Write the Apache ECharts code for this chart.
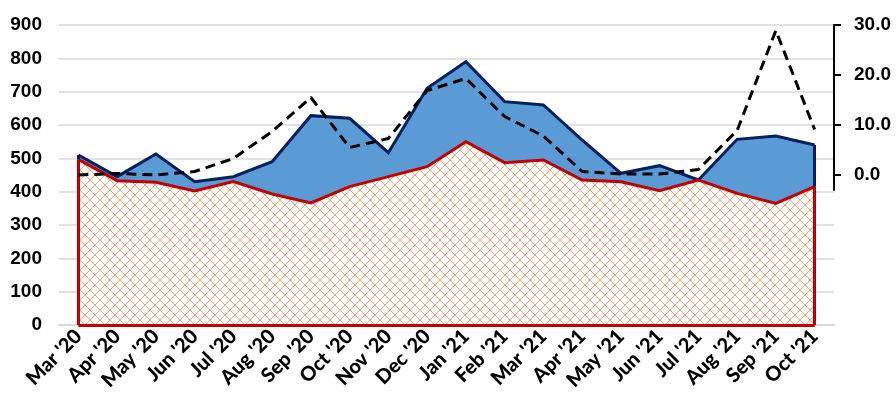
<!DOCTYPE html>
<html>
<head>
<meta charset="utf-8">
<script src="https://cdn.jsdelivr.net/npm/echarts@6/dist/echarts.min.js"></script>
<style>
  html, body { margin: 0; padding: 0; background: #ffffff; }
  #chart { width: 896px; height: 402px; }
</style>
</head>
<body>
<div id="chart"></div>
<script>
// Monthly categories
const months = ["Mar '20", "Apr '20", "May '20", "Jun '20", "Jul '20", "Aug '20", "Sep '20", "Oct '20",
  "Nov '20", "Dec '20", "Jan '21", "Feb '21", "Mar '21", "Apr '21", "May '21", "Jun '21", "Jul '21",
  "Aug '21", "Sep '21", "Oct '21"];

// Lower (hatched) area, left axis
const baseValues = [497, 433, 428, 402, 430, 393, 366, 415, 445, 475, 550, 487, 495, 435, 430, 403, 435, 395, 365, 415];
// Upper (blue) area top, left axis
const totalValues = [510, 445, 513, 430, 445, 490, 628, 620, 517, 710, 790, 670, 660, 555, 455, 478, 435, 557, 567, 540];
// Dashed line, right axis
const rateValues = [0.0, 0.3, 0.0, 0.7, 3.3, 8.7, 15.5, 5.5, 7.3, 16.9, 19.3, 11.7, 7.8, 0.7, 0.2, 0.2, 1.1, 8.9, 28.9, 9.1];

// Axis ticks
const leftTicks = [0, 100, 200, 300, 400, 500, 600, 700, 800, 900];
const rightTicks = [0, 10, 20, 30];

// Orange diamond lattice on white for the lower area
function latticePattern() {
  const s = 10;
  const c = document.createElement('canvas');
  c.width = s; c.height = s;
  const g = c.getContext('2d');
  g.fillStyle = '#ffffff';
  g.fillRect(0, 0, s, s);
  g.strokeStyle = '#f4a571';
  g.lineWidth = 1;
  g.beginPath();
  g.moveTo(0, 0); g.lineTo(s, s);
  g.moveTo(s, 0); g.lineTo(0, s);
  g.stroke();
  return c;
}

const first = months[0];
const last = months[months.length - 1];
const n = months.length - 1;

const chart = echarts.init(document.getElementById('chart'), null, { renderer: 'canvas' });

const yLabelFont = {
  color: '#000000',
  fontFamily: '"Liberation Sans", Arial, sans-serif',
  fontWeight: 'bold',
  fontSize: 19
};

chart.setOption({
  animation: false,
  backgroundColor: '#ffffff',
  grid: [
    { left: 59, right: 62, top: 25, bottom: 77 },
    { left: 59, right: 62, top: 25, height: 165 }
  ],
  xAxis: [
    {
      type: 'category',
      gridIndex: 0,
      data: months,
      boundaryGap: true,
      axisLine: { lineStyle: { color: '#d9d9d9', width: 2 } },
      axisTick: { show: false },
      axisLabel: {
        interval: 0,
        rotate: 45,
        margin: 8,
        color: '#000000',
        fontFamily: 'Lato, "Open Sans", sans-serif',
        fontWeight: 900,
        fontSize: 20
      }
    },
    {
      type: 'category',
      gridIndex: 1,
      data: months,
      boundaryGap: true,
      show: false
    }
  ],
  yAxis: [
    {
      type: 'value',
      gridIndex: 0,
      min: 0,
      max: 900,
      interval: 100,
      axisLine: { show: false },
      axisTick: { show: false },
      splitLine: { lineStyle: { color: '#d9d9d9', width: 1.5 } },
      axisLabel: Object.assign({ margin: 17, customValues: leftTicks }, yLabelFont)
    },
    {
      type: 'value',
      gridIndex: 1,
      position: 'right',
      min: -3,
      max: 30,
      axisLine: { show: true, lineStyle: { color: '#000000', width: 2 } },
      axisTick: { show: true, inside: false, length: 7, customValues: rightTicks, lineStyle: { color: '#000000', width: 2 } },
      splitLine: { show: false },
      axisLabel: Object.assign({
        margin: 20,
        customValues: rightTicks,
        formatter: v => Number(v).toFixed(1)
      }, yLabelFont)
    }
  ],
  series: [
    {
      name: 'total',
      type: 'line',
      xAxisIndex: 0,
      yAxisIndex: 0,
      data: totalValues,
      symbol: 'none',
      z: 2,
      lineStyle: { color: '#002060', width: 3, join: 'miter' },
      areaStyle: { color: '#5b9bd5', opacity: 1, origin: 'start' },
      markLine: {
        silent: true,
        symbol: 'none',
        label: { show: false },
        lineStyle: { color: '#002060', width: 3, type: 'solid' },
        data: [
          [{ coord: [first, baseValues[0]] }, { coord: [first, totalValues[0]] }],
          [{ coord: [last, baseValues[n]] }, { coord: [last, totalValues[n]] }]
        ]
      }
    },
    {
      name: 'base',
      type: 'line',
      xAxisIndex: 0,
      yAxisIndex: 0,
      data: baseValues,
      symbol: 'none',
      z: 3,
      lineStyle: { color: '#c00000', width: 3, join: 'miter' },
      areaStyle: { color: { image: latticePattern(), repeat: 'repeat' }, opacity: 1, origin: 'start' },
      markLine: {
        silent: true,
        symbol: 'none',
        label: { show: false },
        lineStyle: { color: '#c00000', width: 3, type: 'solid' },
        data: [
          [{ coord: [first, 0] }, { coord: [first, baseValues[0]] }],
          [{ coord: [last, 0] }, { coord: [last, baseValues[n]] }],
          [{ coord: [first, 0] }, { coord: [last, 0] }]
        ]
      }
    },
    {
      name: 'rate',
      type: 'line',
      xAxisIndex: 1,
      yAxisIndex: 1,
      data: rateValues,
      symbol: 'none',
      z: 5,
      lineStyle: { color: '#000000', width: 3, type: [10, 6] }
    }
  ]
});
</script>
</body>
</html>
